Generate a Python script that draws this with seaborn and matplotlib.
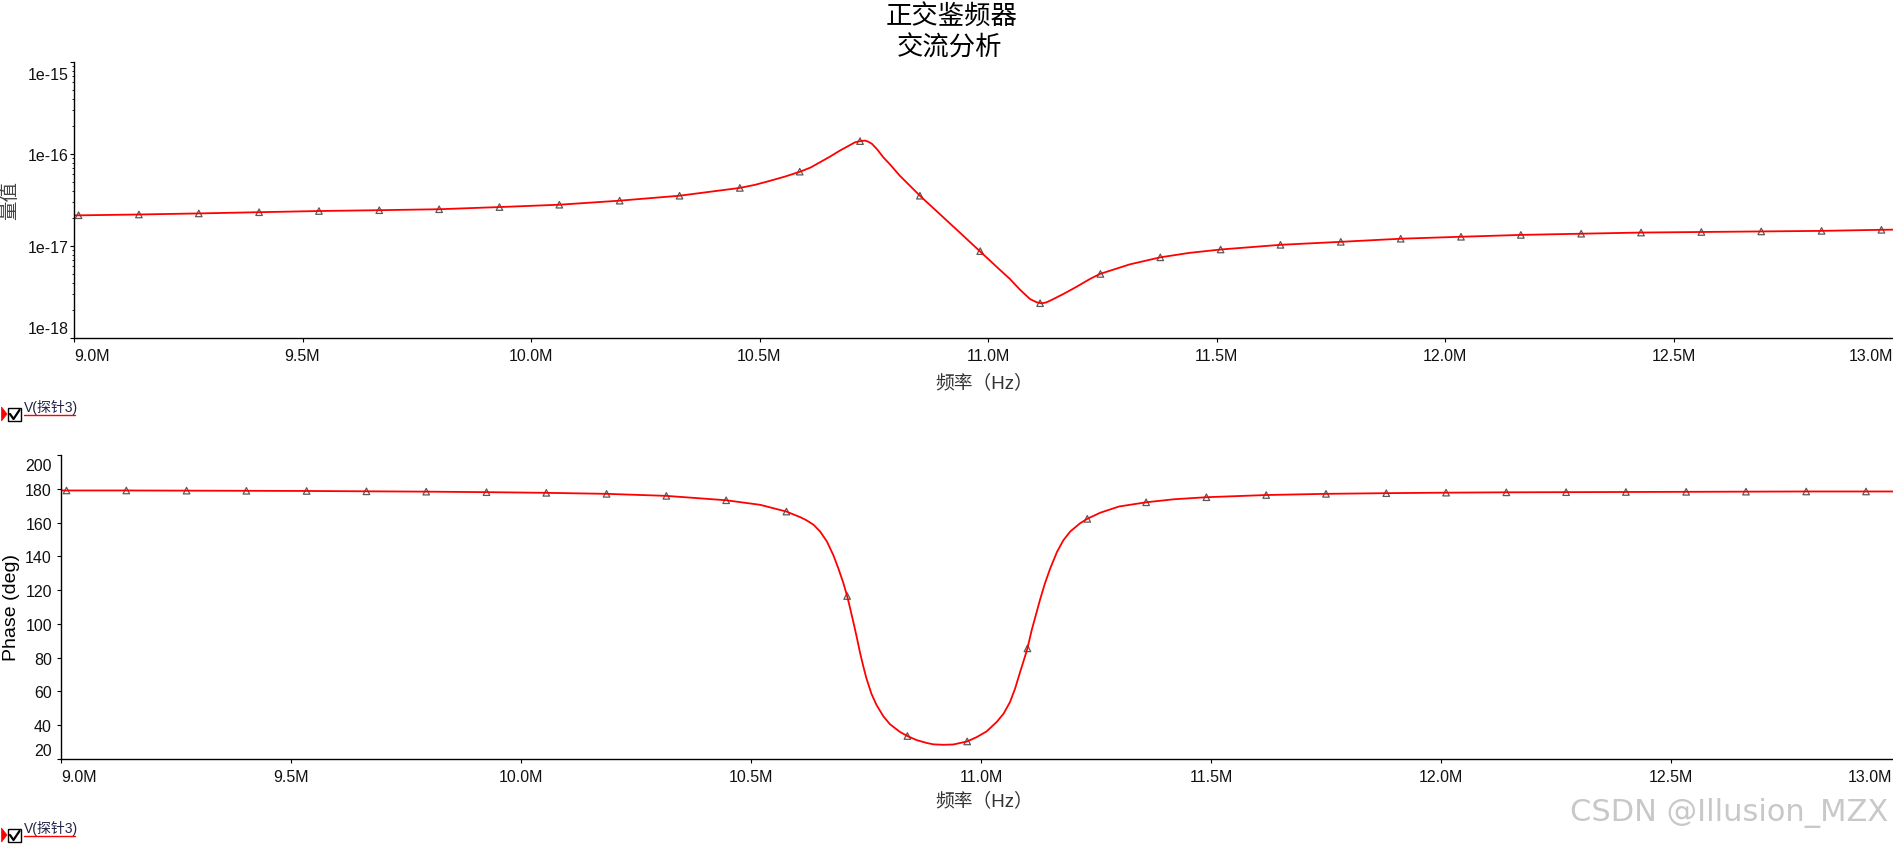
import matplotlib
matplotlib.use("Agg")
import matplotlib.pyplot as plt
import matplotlib.transforms as mtransforms
from matplotlib.patches import Rectangle, Polygon
from matplotlib.lines import Line2D
from matplotlib.ticker import LogLocator, NullFormatter
import seaborn as sns

# ---------------- data ----------------
mag_curve_freq_mhz = [9.000, 9.142, 9.273, 9.405, 9.536, 9.668, 9.799, 9.931, 10.062, 10.194,
                      10.325, 10.457, 10.490, 10.523, 10.556, 10.589, 10.611, 10.632, 10.654,
                      10.676, 10.698, 10.709, 10.720, 10.731, 10.738, 10.746, 10.757, 10.771,
                      10.786, 10.807, 10.851, 10.895, 10.939, 10.982, 11.026, 11.048, 11.070,
                      11.092, 11.107, 11.117, 11.128, 11.143, 11.165, 11.194, 11.223, 11.245,
                      11.310, 11.377, 11.440, 11.509, 11.640, 11.772, 11.903, 12.035, 12.166,
                      12.298, 12.429, 12.561, 12.692, 12.824, 12.955, 13.000]
mag_curve_value = [2.15e-17, 2.20e-17, 2.26e-17, 2.33e-17, 2.40e-17, 2.45e-17, 2.51e-17, 2.65e-17,
                   2.81e-17, 3.11e-17, 3.52e-17, 4.28e-17, 4.62e-17, 5.11e-17, 5.69e-17, 6.43e-17,
                   7.10e-17, 8.11e-17, 9.35e-17, 1.09e-16, 1.25e-16, 1.34e-16, 1.38e-16, 1.40e-16,
                   1.36e-16, 1.29e-16, 1.13e-16, 9.20e-17, 7.66e-17, 5.81e-17, 3.52e-17, 2.21e-17,
                   1.39e-17, 8.79e-18, 5.51e-18, 4.38e-18, 3.35e-18, 2.65e-18, 2.44e-18, 2.38e-18,
                   2.44e-18, 2.65e-18, 3.01e-18, 3.61e-18, 4.38e-18, 4.97e-18, 6.31e-18, 7.53e-18,
                   8.41e-18, 9.16e-18, 1.03e-17, 1.11e-17, 1.20e-17, 1.26e-17, 1.32e-17, 1.36e-17,
                   1.40e-17, 1.42e-17, 1.44e-17, 1.46e-17, 1.50e-17, 1.51e-17]

mag_marker_freq_mhz = [9.010, 9.142, 9.273, 9.405, 9.536, 9.668, 9.799, 9.931, 10.062, 10.194,
                       10.325, 10.457, 10.588, 10.720, 10.851, 10.983, 11.114, 11.246, 11.377,
                       11.509, 11.640, 11.772, 11.903, 12.035, 12.166, 12.298, 12.429, 12.561,
                       12.692, 12.824, 12.955]
mag_marker_value = [2.16e-17, 2.20e-17, 2.26e-17, 2.33e-17, 2.40e-17, 2.45e-17, 2.51e-17, 2.65e-17,
                    2.81e-17, 3.11e-17, 3.52e-17, 4.28e-17, 6.43e-17, 1.38e-16, 3.52e-17, 8.79e-18,
                    2.39e-18, 4.97e-18, 7.53e-18, 9.16e-18, 1.03e-17, 1.11e-17, 1.20e-17, 1.26e-17,
                    1.32e-17, 1.36e-17, 1.40e-17, 1.42e-17, 1.44e-17, 1.46e-17, 1.50e-17]

phase_curve_freq_mhz = [9.000, 9.142, 9.273, 9.403, 9.534, 9.664, 9.794, 9.925, 10.055, 10.186,
                        10.316, 10.446, 10.520, 10.577, 10.607, 10.621, 10.636, 10.650, 10.665,
                        10.679, 10.690, 10.701, 10.709, 10.715, 10.723, 10.730, 10.737, 10.744,
                        10.751, 10.762, 10.773, 10.788, 10.802, 10.824, 10.840, 10.860, 10.882,
                        10.896, 10.918, 10.940, 10.970, 10.991, 11.012, 11.034, 11.049, 11.063,
                        11.074, 11.085, 11.094, 11.101, 11.110, 11.121, 11.128, 11.139, 11.150,
                        11.165, 11.179, 11.194, 11.215, 11.231, 11.259, 11.300, 11.359, 11.420,
                        11.490, 11.620, 11.750, 11.881, 12.011, 12.142, 12.272, 12.402, 12.533,
                        12.663, 12.794, 12.924, 13.000]
phase_curve_deg = [179.0, 179.0, 178.9, 178.8, 178.7, 178.5, 178.3, 178.0, 177.6, 177.0,
                   175.8, 173.2, 170.5, 166.5, 163.2, 161.3, 158.7, 154.8, 148.8,
                   140.7, 132.8, 124.0, 116.5, 109.8, 100.5, 92.0, 83.0, 75.0,
                   67.7, 58.5, 51.9, 45.2, 40.6, 36.0, 33.6, 31.2, 29.5,
                   28.7, 28.4, 28.6, 30.4, 33.0, 36.3, 41.9, 46.8, 53.7,
                   61.6, 71.5, 79.3, 85.5, 96.1, 107.0, 114.0, 124.0, 132.5,
                   142.5, 149.5, 154.7, 159.5, 162.2, 165.8, 169.5, 172.0, 173.8,
                   175.0, 176.3, 177.0, 177.4, 177.7, 177.9, 178.0, 178.1, 178.2,
                   178.3, 178.4, 178.4, 178.4]

phase_marker_freq_mhz = [9.012, 9.142, 9.273, 9.403, 9.534, 9.664, 9.794, 9.925, 10.055, 10.186,
                         10.316, 10.446, 10.577, 10.709, 10.840, 10.970, 11.101, 11.231, 11.359,
                         11.490, 11.620, 11.750, 11.881, 12.011, 12.142, 12.272, 12.402, 12.533,
                         12.663, 12.794, 12.924]
phase_marker_deg = [179.0, 179.0, 178.9, 178.8, 178.7, 178.5, 178.3, 178.0, 177.6, 177.0,
                    175.8, 173.2, 166.5, 116.5, 33.6, 30.4, 85.5, 162.2, 172.0,
                    175.0, 176.3, 177.0, 177.4, 177.7, 177.9, 178.0, 178.1, 178.2,
                    178.3, 178.4, 178.4]

x_ticks_mhz = [9.0, 9.5, 10.0, 10.5, 11.0, 11.5, 12.0, 12.5, 13.0]
x_tick_labels = ["9.0M", "9.5M", "10.0M", "10.5M", "11.0M", "11.5M", "12.0M", "12.5M", "13.0M"]
mag_ticks = [1e-18, 1e-17, 1e-16, 1e-15]
mag_tick_labels = ["1e-18", "1e-17", "1e-16", "1e-15"]
phase_ticks = [20, 40, 60, 80, 100, 120, 140, 160, 180, 200]
phase_tick_labels = ["20", "40", "60", "80", "100", "120", "140", "160", "180", "200"]

title_lines = ["正交鉴频器", "交流分析"]
mag_ylabel = "量值"
phase_ylabel = "Phase (deg)"
freq_xlabel = "频率（Hz）"
legend_label = "V(探针3)"
watermark = "CSDN @Illusion_MZX"

# ---------------- figure ----------------
W, H = 1893, 845
sns.set_theme(style="white")
plt.rcParams["font.family"] = ["Liberation Sans", "Noto Sans CJK SC", "DejaVu Sans"]
plt.rcParams["axes.unicode_minus"] = False

fig = plt.figure(figsize=(W / 100, H / 100), dpi=100)
fig.patch.set_facecolor("white")


def fx(px):
    return px / W


def fy(py):
    return 1 - py / H


ax1 = fig.add_axes([fx(74), fy(339), (1902 - 74) / W, (339 - 63) / H])
ax2 = fig.add_axes([fx(61), fy(760), (1901 - 61) / W, (760 - 456) / H])

RED = "#ff0000"
MARK = "#5a5a5a"

# magnitude
sns.lineplot(x=mag_curve_freq_mhz, y=mag_curve_value, ax=ax1, color=RED, lw=1.3, sort=False)
sns.scatterplot(x=mag_marker_freq_mhz, y=mag_marker_value, ax=ax1, marker="^", s=22, color=MARK)
ax1.collections[-1].set_facecolor("none")
ax1.collections[-1].set_edgecolor(MARK)
ax1.collections[-1].set_linewidth(0.9)
ax1.set_yscale("log")
ax1.set_ylim(1e-18, 1e-15)

# phase
sns.lineplot(x=phase_curve_freq_mhz, y=phase_curve_deg, ax=ax2, color=RED, lw=1.3, sort=False)
sns.scatterplot(x=phase_marker_freq_mhz, y=phase_marker_deg, ax=ax2, marker="^", s=22, color=MARK)
ax2.collections[-1].set_facecolor("none")
ax2.collections[-1].set_edgecolor(MARK)
ax2.collections[-1].set_linewidth(0.9)
ax2.set_ylim(20, 200)

for ax in (ax1, ax2):
    ax.set_xlim(9.0, 13.0)
    ax.set_facecolor("white")
    ax.grid(False)
    for s in ("top", "right"):
        ax.spines[s].set_visible(False)
    for s in ("left", "bottom"):
        ax.spines[s].set_color("black")
        ax.spines[s].set_linewidth(1.0)
    ax.set_xlabel("")
    ax.set_ylabel("")
    ax.set_xticks(x_ticks_mhz)
    ax.set_xticklabels(x_tick_labels)
    ax.tick_params(axis="both", which="major", direction="out", length=3, width=0.8,
                   colors="black", labelcolor="#111111", labelsize=11.5,
                   bottom=True, left=True, top=False, right=False)
    ax.tick_params(axis="x", pad=4)

ax1.set_yticks(mag_ticks)
ax1.set_yticklabels(mag_tick_labels)
ax1.yaxis.set_minor_locator(LogLocator(base=10, subs=[2, 3, 4, 5, 6, 7, 8, 9]))
ax1.yaxis.set_minor_formatter(NullFormatter())
ax1.tick_params(axis="y", which="minor", direction="out", length=1.6, width=0.6,
                colors="black", left=True)
ax1.tick_params(axis="y", which="major", pad=1)

ax2.set_yticks(phase_ticks)
ax2.set_yticklabels(phase_tick_labels)
ax2.tick_params(axis="y", which="major", pad=3.5)


def shift(label, dx_px, dy_px):
    off = mtransforms.ScaledTranslation(dx_px / 100, dy_px / 100, fig.dpi_scale_trans)
    label.set_transform(label.get_transform() + off)


for ax in (ax1, ax2):
    xl = ax.get_xticklabels()
    xl[0].set_ha("left")
    xl[-1].set_ha("right")
    shift(xl[-1], -9, 0)

yl1 = ax1.get_yticklabels()
shift(yl1[0], 0, 11)
shift(yl1[-1], 0, -11)
yl2 = ax2.get_yticklabels()
shift(yl2[0], 0, 10)
shift(yl2[-1], 0, -9)

# texts
cjk = ["Noto Sans CJK SC", "DejaVu Sans"]
fig.text(fx(952), fy(17), title_lines[0], ha="center", va="center", fontsize=19,
         family=cjk, color="black")
fig.text(fx(950), fy(48), title_lines[1], ha="center", va="center", fontsize=19,
         family=cjk, color="black")

fig.text(fx(10), fy(201), mag_ylabel, rotation=90, ha="center", va="center", fontsize=14,
         family=cjk, color="#444444")
fig.text(fx(12), fy(608), phase_ylabel, rotation=90, ha="center", va="center", fontsize=14,
         color="black")

for yc in (383, 801):
    fig.text(fx(984), fy(yc), freq_xlabel, ha="center", va="center", fontsize=13.5,
             family=["Liberation Sans", "Noto Sans CJK SC"], color="#333333")

# probe legend entries
for y0 in (402, 823):
    fig.add_artist(Polygon([[fx(1.5), fy(y0 + 6)], [fx(7), fy(y0 + 13)], [fx(1.5), fy(y0 + 20)]],
                           closed=True, transform=fig.transFigure, facecolor=RED,
                           edgecolor=RED, lw=0.5))
    fig.add_artist(Rectangle((fx(7.5), fy(y0 + 20)), 13.5 / W, 13.5 / H,
                             transform=fig.transFigure, facecolor="white",
                             edgecolor="black", lw=1.0))
    fig.add_artist(Line2D([fx(10), fx(13.5), fx(19.5)], [fy(y0 + 13), fy(y0 + 18), fy(y0 + 9)],
                          transform=fig.transFigure, color="black", lw=1.6))
    fig.text(fx(24), fy(y0 + 5), legend_label, ha="left", va="center", fontsize=10,
             family=["Liberation Sans", "Noto Sans CJK SC"], color="#222244")
    fig.add_artist(Line2D([fx(24), fx(75)], [fy(y0 + 14), fy(y0 + 14)],
                          transform=fig.transFigure, color=RED, lw=1.0))

fig.text(fx(1888), fy(821), watermark, ha="right", va="baseline", fontsize=22,
         color="#c8c8c8", family=["DejaVu Sans"])

fig.savefig("out.png", dpi=100, facecolor="white")
